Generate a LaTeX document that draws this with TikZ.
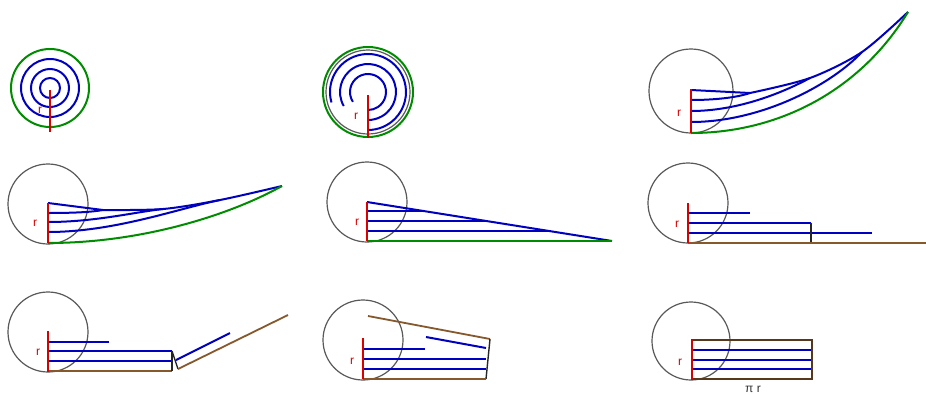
\documentclass[tikz,border=0pt]{standalone}
\usepackage{fontspec}
\setmainfont{Liberation Sans}
\begin{document}
\begin{tikzpicture}[x=1pt,y=-1pt,
  circ/.style={draw=black!65,line width=1.2pt},
  bl/.style={draw=blue!75!black,line width=2pt},
  gr/.style={draw=green!55!black,line width=2pt},
  rd/.style={draw=red!85!black,line width=1.7pt},
  br/.style={draw=brown!70!black,line width=1.8pt},
  bk/.style={draw=black!85,line width=1.4pt},
  lab/.style={text=red!85!black,font=\fontsize{12}{12}\selectfont,inner sep=0pt},
  lab2/.style={text=black!80,font=\fontsize{12}{12}\selectfont,inner sep=0pt}]
\useasboundingbox (0,0) rectangle (926,394);
\fill[white] (0,0) rectangle (926,394);

% ---- panel 1
\draw[gr] (50,88) circle[radius=39];
\draw[bl] (50,88) circle[radius=29];
\draw[bl] (50,88) circle[radius=19];
\draw[bl] (50,88) circle[radius=10];
\draw[rd] (50,90) -- (50,132);
\node[lab] (r1) at (40,110) {r};

% ---- panel 2
\draw[circ] (368,92) circle[radius=42];
\draw[gr] (368,92) circle[radius=45];
\draw[bl] ([shift={(164:38)}]368,92) arc[start angle=164,end angle=450,radius=38];
\draw[bl] ([shift={(150:28)}]368,92) arc[start angle=150,end angle=450,radius=28];
\draw[bl] ([shift={(147:18)}]368,92) arc[start angle=147,end angle=450,radius=18];
\draw[rd] (368,95) -- (368,138);
\node[lab] (r2) at (356,116) {r};

% ---- panel 3
\draw[circ] (691,91) circle[radius=42];
\draw[bl] (691,90) -- (750,93);
\draw[bl] plot[smooth] coordinates {(750,93) (810,78) (862,52) (908,12)};
\draw[bl] (691,100) .. controls (715,100) and (737,97.5) .. (750,93);
\draw[bl] (691,111) .. controls (739,111) and (784,92) .. (810,78);
\draw[bl] (691,122) .. controls (760,122) and (830,86) .. (862,52);
\draw[gr] (691,133) .. controls (778,133) and (860,91) .. (908,12);
\draw[rd] (691,89) -- (691,133);
\node[lab] (r3) at (679,113) {r};

% ---- panel 4
\draw[circ] (48,204) circle[radius=40];
\draw[bl] (48,203) -- (103,210);
\draw[bl] plot[smooth] coordinates {(103,210) (163,209) (220,200) (282,186)};
\draw[bl] (48,213) .. controls (75,213) and (92,212) .. (103,210);
\draw[bl] (48,222) .. controls (95,222) and (135,212) .. (163,209);
\draw[bl] (48,232) .. controls (115,232) and (180,208) .. (220,200);
\draw[gr] (48,243) .. controls (142,243) and (230,215) .. (282,186);
\draw[rd] (48,203) -- (48,243);
\node[lab] (r4) at (35,223) {r};

% ---- panel 5
\draw[circ] (367,202) circle[radius=40];
\draw[bl] (367,202) -- (612,241);
\draw[bl] (367,211) -- (424,211);
\draw[bl] (367,221) -- (486,221);
\draw[bl] (367,231) -- (549,231);
\draw[gr] (367,241) -- (612,241);
\draw[rd] (367,202) -- (367,241);
\node[lab] (r5) at (357,222) {r};

% ---- panel 6
\draw[circ] (688,203) circle[radius=40];
\draw[bl] (688,213) -- (750,213);
\draw[bl] (688,223) -- (811,223);
\draw[bl] (688,233) -- (872,233);
\draw[bk] (811,223) -- (811,243);
\draw[br] (688,243) -- (926,243);
\draw[rd] (688,203) -- (688,243);
\node[lab] (r6) at (677,224) {r};

% ---- panel 7
\draw[circ] (48,332) circle[radius=40];
\draw[bl] (48,342) -- (109,342);
\draw[bl] (48,351) -- (172,351);
\draw[bl] (48,361) -- (172,361);
\draw[br] (48,371) -- (172,371);
\draw[bk] (172,351) -- (172,371);
\draw[bk] (172,351) -- (178,369);
\draw[br] (178,369) -- (288,315);
\draw[bl] (176,360) -- (230,333);
\draw[rd] (48,331) -- (48,372);
\node[lab] (r7) at (38,352) {r};

% ---- panel 8
\draw[circ] (363,340) circle[radius=40];
\draw[br] (368,316) -- (490,339);
\draw[bk] (490,339) -- (486,379);
\draw[bl] (363,349) -- (425,349);
\draw[bl] (363,359) -- (486,359);
\draw[bl] (363,369) -- (486,369);
\draw[br] (363,379) -- (486,379);
\draw[bl] (426,337) -- (486,348);
\draw[rd] (363,338) -- (363,379);
\node[lab] (r8) at (352,361) {r};

% ---- panel 9
\draw[circ] (691,341) circle[radius=39];
\draw[bl] (692,350) -- (812,350);
\draw[bl] (692,360) -- (812,360);
\draw[bl] (692,369) -- (812,369);
\draw[draw=brown!45!black,line width=1.6pt] (692,340) rectangle (812,379);
\draw[rd] (692,340) -- (692,379);
\node[lab] (r9) at (680,362) {r};
\node[lab2] (pr) at (753,389) {π r};
\end{tikzpicture}
\end{document}
